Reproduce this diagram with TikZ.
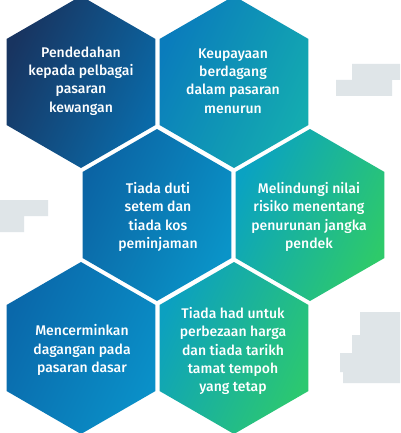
\documentclass[tikz,border=0pt]{standalone}
\usepackage{fontspec}
\IfFontExistsTF{Fira Sans Medium}{\setmainfont{Fira Sans Medium}}{\setmainfont{Fira Sans}}
\usepackage{tikz}
\usetikzlibrary{positioning}
\definecolor{cellleft}{HTML}{1A3560}
\definecolor{cellright}{HTML}{0A6CAA}
\definecolor{ghostgray}{HTML}{DFE5E8}
% one left-to-right shading, redrawn for each cell's pair of colours
\pgfdeclarehorizontalshading[cellleft,cellright]{cellgrad}{100bp}{color(0bp)=(cellleft); color(25bp)=(cellleft); color(75bp)=(cellright); color(100bp)=(cellright)}

\begin{document}
\begin{tikzpicture}[x=1pt,y=-1pt,
    celltext/.style={text=white,align=center,font=\fontsize{14}{18.3}\selectfont},
    ghost/.style={fill=ghostgray}]
  % Page and background
  \fill[white] (0,0) rectangle (400,433);
  \useasboundingbox (0,0) rectangle (400,433);

  % Faded blocks at the sides
  \fill[ghost] (352,64) rectangle (400,80) (336,80) rectangle (392,96);
  \fill[ghost] (0,200) rectangle (48,216) (0,216) rectangle (24,232);
  \fill[ghost] (360,312) rectangle (400,335) (352,335) rectangle (400,353)
    (340,353) rectangle (400,372) (343,372) rectangle (400,383);

  % Hexagon cells, each with its own colour pair
  \foreach \cx/\cy/\cl/\cr in {81/82/183460/0A6AA8, 234/82/0A7CBC/14ACB0,
      157/215/0B64A4/0A94C8, 310/215/0AA2C2/2ECA6A,
      81/348/0A68AA/0A90C8, 234/348/0CA0C0/2CC870} {
    \definecolor{cellleft}{HTML}{\cl}
    \definecolor{cellright}{HTML}{\cr}
    \shade[shading=cellgrad,shading angle=-25]
      (\cx,\cy) +(90:86) -- +(150:86) -- +(210:86) -- +(270:86) -- +(330:86) -- +(30:86) -- cycle;
  }

  % Cell texts
  \node[celltext] (exposure) at (81,81) {Pendedahan\\kepada pelbagai\\pasaran\\kewangan};
  \node[celltext] (declining) at (233,81) {Keupayaan\\berdagang\\dalam pasaran\\menurun};
  \node[celltext] (nostamp) at (158,217) {Tiada duti\\setem dan\\tiada kos\\peminjaman};
  \node[celltext] (hedge) at (309,217) {Melindungi nilai\\risiko menentang\\penurunan jangka\\pendek};
  \node[celltext] (mirror) at (82,350) {Mencerminkan\\dagangan pada\\pasaran dasar};
  \node[celltext] (nolimit) at (233,351) {Tiada had untuk\\perbezaan harga\\dan tiada tarikh\\tamat tempoh\\yang tetap};
\end{tikzpicture}
\end{document}
